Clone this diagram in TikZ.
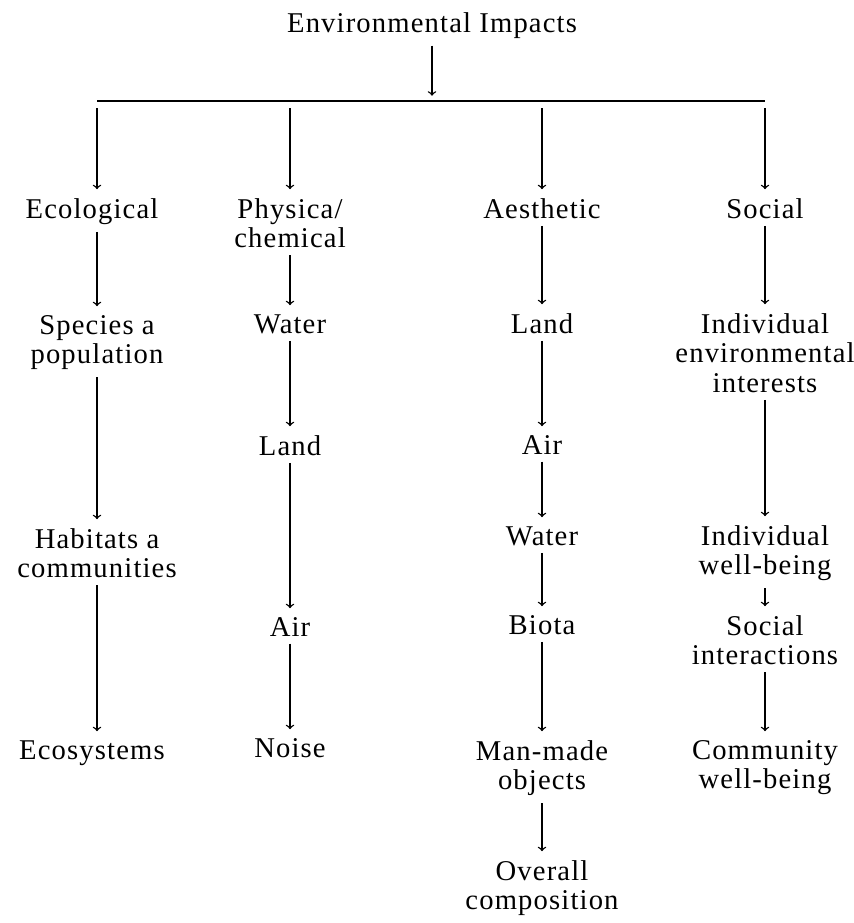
\documentclass[tikz,border=0pt]{standalone}
\usepackage{fontspec}
\setmainfont{Liberation Serif}[LetterSpace=4]
\usepackage{tikz}

\tikzset{
  lbl/.style={anchor=north, align=center, inner sep=0pt,
    font=\fontsize{16.3}{16.8}\selectfont},
  arr/.style={->, line width=0.8pt, shorten <=4pt, shorten >=5pt}
}

\begin{document}
\begin{tikzpicture}[x=0.02cm, y=-0.02cm]
  \useasboundingbox (0,0) rectangle (854,923);

  % top of the tree
  \node[lbl] (env) at (432,12) {Environmental Impacts};
  \coordinate (bar) at (432,101);
  \foreach \n/\x in {c1/97, c2/290, c3/542, c4/765}
    \coordinate (\n) at (\x,101);
  \draw[line width=0.8pt] (c1) -- (c4);
  \draw[arr, shorten >=3pt] (env) -- (bar);

  % ecological
  \node[lbl] (eco) at (92,198) {Ecological};
  \node[lbl] (spc) at (97,315) {Species a\\population};
  \node[lbl] (hab) at (97,528) {Habitats a\\communities};
  \node[lbl] (ecs) at (92,740) {Ecosystems};

  % physical / chemical
  \node[lbl] (phy) at (290,198) {Physica/\\chemical};
  \node[lbl] (wat2) at (290,314) {Water};
  \node[lbl] (lnd2) at (290,435) {Land};
  \node[lbl] (air2) at (290,617) {Air};
  \node[lbl] (noi) at (290,738) {Noise};

  % aesthetic
  \node[lbl] (aes) at (542,198) {Aesthetic};
  \node[lbl] (lnd3) at (542,313) {Land};
  \node[lbl] (air3) at (542,435) {Air};
  \node[lbl] (wat3) at (542,526) {Water};
  \node[lbl] (bio) at (542,615) {Biota};
  \node[lbl] (man) at (542,740) {Man-made\\objects};
  \node[lbl] (ovr) at (542,860) {Overall\\composition};

  % social
  \node[lbl] (soc) at (765,198) {Social};
  \node[lbl] (ind) at (765,313) {Individual\\environmental\\interests};
  \node[lbl] (iwb) at (765,525) {Individual\\well-being};
  \node[lbl] (sin) at (765,615) {Social\\interactions};
  \node[lbl] (cwb) at (765,740) {Community\\well-being};

  \draw[arr] (c1) -- (c1 |- eco.north);
  \draw[arr] (c2) -- (phy);
  \draw[arr] (c3) -- (aes);
  \draw[arr] (c4) -- (soc);

  \draw[arr] (eco.south -| c1) -- (spc);
  \draw[arr] (spc) -- (hab);
  \draw[arr] (hab) -- (hab |- ecs.north);

  \draw[arr] (phy) -- (wat2);
  \draw[arr] (wat2) -- (lnd2);
  \draw[arr] (lnd2) -- (air2);
  \draw[arr] (air2) -- (noi);

  \draw[arr] (aes) -- (lnd3);
  \draw[arr] (lnd3) -- (air3);
  \draw[arr] (air3) -- (wat3);
  \draw[arr] (wat3) -- (bio);
  \draw[arr] (bio) -- (man);
  \draw[arr] (man) -- (ovr);

  \draw[arr] (soc) -- (ind);
  \draw[arr] (ind) -- (iwb);
  \draw[arr] (iwb) -- (sin);
  \draw[arr] (sin) -- (cwb);
\end{tikzpicture}
\end{document}
